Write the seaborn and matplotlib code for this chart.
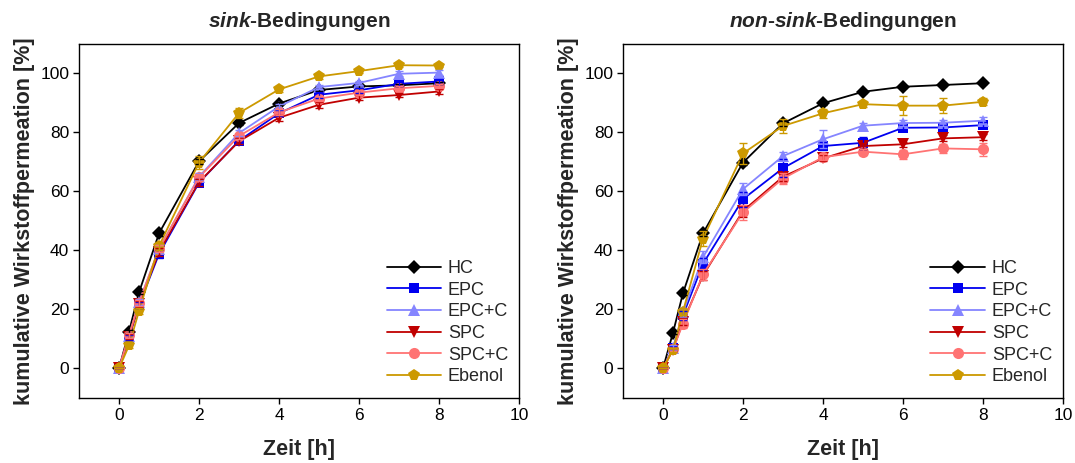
import matplotlib
matplotlib.use("Agg")
import matplotlib.pyplot as plt
from matplotlib.lines import Line2D
import numpy as np
import pandas as pd
import seaborn as sns

# Probenahmezeitpunkte [h]
zeit = [0, 0.25, 0.5, 1, 2, 3, 4, 5, 6, 7, 8]
formulierungen = ["HC", "EPC", "EPC+C", "SPC", "SPC+C", "Ebenol"]

# sink-Bedingungen: Mittelwerte [%]
sink_hc     = [0, 12.5, 25.8, 45.8, 70.2, 83.2, 89.8, 94.4, 95.6, 96.0, 96.7]
sink_epc    = [0, 10.5, 21.5, 38.8, 63.0, 77.2, 86.5, 92.8, 94.3, 96.5, 97.3]
sink_epc_c  = [0, 11.0, 22.5, 40.5, 65.0, 79.8, 88.8, 95.4, 96.8, 99.9, 100.3]
sink_spc    = [0, 10.8, 21.8, 39.5, 63.2, 77.0, 85.0, 89.4, 91.8, 92.7, 93.9]
sink_spc_c  = [0, 11.2, 22.3, 40.6, 64.8, 78.8, 86.8, 91.5, 93.5, 95.0, 95.8]
sink_ebenol = [0, 7.8, 19.5, 41.5, 69.8, 86.6, 94.6, 99.0, 100.8, 102.8, 102.7]

# sink-Bedingungen: Standardabweichungen
sink_hc_sd     = [0, 0.5, 0.6, 0.8, 0.8, 0.6, 0.6, 0.5, 0.5, 0.4, 0.4]
sink_epc_sd    = [0, 0.8, 1.0, 1.2, 1.2, 1.0, 1.0, 1.0, 0.8, 0.9, 0.8]
sink_epc_c_sd  = [0, 0.8, 1.0, 1.2, 1.2, 1.0, 1.0, 0.8, 0.8, 0.8, 0.8]
sink_spc_sd    = [0, 0.8, 1.0, 1.2, 1.2, 1.0, 1.0, 1.0, 0.8, 0.8, 0.8]
sink_spc_c_sd  = [0, 0.8, 1.0, 1.2, 1.2, 1.0, 1.0, 0.8, 0.8, 0.8, 0.8]
sink_ebenol_sd = [0, 0.8, 1.0, 1.5, 2.2, 1.6, 0.8, 0.8, 0.6, 0.6, 0.6]

# non-sink-Bedingungen: Mittelwerte [%]
nonsink_hc     = [0, 12.1, 25.5, 45.8, 69.8, 83.1, 89.9, 93.8, 95.5, 96.1, 96.7]
nonsink_epc    = [0, 6.8, 18.0, 35.5, 57.4, 67.9, 75.4, 76.5, 81.6, 81.7, 82.5]
nonsink_epc_c  = [0, 7.0, 19.0, 37.7, 60.8, 72.0, 77.7, 82.3, 83.2, 83.3, 84.0]
nonsink_spc    = [0, 6.4, 15.8, 31.5, 53.4, 65.0, 71.2, 75.4, 76.0, 78.0, 78.4]
nonsink_spc_c  = [0, 6.5, 15.2, 31.9, 52.9, 64.4, 71.6, 73.5, 72.6, 74.6, 74.3]
nonsink_ebenol = [0, 6.3, 19.3, 44.0, 72.9, 82.2, 86.5, 89.6, 89.1, 89.1, 90.4]

# non-sink-Bedingungen: Standardabweichungen
nonsink_hc_sd     = [0, 0.5, 0.6, 1.0, 0.8, 0.8, 0.5, 0.4, 0.4, 0.3, 0.3]
nonsink_epc_sd    = [0, 0.8, 1.5, 2.0, 2.5, 3.0, 1.5, 2.0, 1.0, 1.0, 1.0]
nonsink_epc_c_sd  = [0, 0.8, 1.5, 2.0, 2.0, 1.5, 3.0, 1.0, 1.0, 1.0, 1.2]
nonsink_spc_sd    = [0, 0.6, 1.2, 1.5, 2.0, 1.5, 1.0, 1.0, 0.8, 1.0, 1.0]
nonsink_spc_c_sd  = [0, 0.6, 1.5, 1.8, 2.5, 2.0, 1.0, 1.0, 1.5, 1.5, 2.2]
nonsink_ebenol_sd = [0, 0.6, 1.2, 2.5, 3.5, 2.5, 1.5, 1.0, 3.2, 2.5, 1.2]

x_ticks = [0, 2, 4, 6, 8, 10]
y_ticks = [0, 20, 40, 60, 80, 100]

farben = {"HC": "#000000", "EPC": "#0000f0", "EPC+C": "#8585ff",
          "SPC": "#c00000", "SPC+C": "#ff7373", "Ebenol": "#cc9900"}
symbole = {"HC": "D", "EPC": "s", "EPC+C": "^",
           "SPC": "v", "SPC+C": "o", "Ebenol": "p"}
groessen = {"HC": 7, "EPC": 7, "EPC+C": 8, "SPC": 8, "SPC+C": 8, "Ebenol": 8.5}

sns.set_theme(style="ticks")
plt.rcParams["font.family"] = ["Liberation Sans", "DejaVu Sans"]
plt.rcParams["mathtext.fontset"] = "custom"
plt.rcParams["mathtext.it"] = "Liberation Sans:italic:bold"
plt.rcParams["mathtext.rm"] = "Liberation Sans:bold"
plt.rcParams["mathtext.bf"] = "Liberation Sans:bold"


def langform(werte, sds):
    teile = []
    for name, w, s in zip(formulierungen, werte, sds):
        teile.append(pd.DataFrame({"Zeit": zeit, "Wert": w, "SD": s,
                                   "Formulierung": name}))
    return pd.concat(teile, ignore_index=True)


def panel(ax, df, titel):
    for name in formulierungen:
        sub = df[df["Formulierung"] == name]
        ax.errorbar(sub["Zeit"], sub["Wert"], yerr=sub["SD"], fmt="none",
                    ecolor=farben[name], elinewidth=1.0, capsize=3,
                    capthick=1.0, zorder=3)
        sns.lineplot(data=sub, x="Zeit", y="Wert", color=farben[name],
                     marker=symbole[name],
                     markersize=groessen[name], markeredgewidth=0,
                     linewidth=1.3, errorbar=None, sort=False,
                     legend=False, ax=ax, zorder=2)
    ax.set_xlim(-1, 10)
    ax.set_ylim(-10, 110)
    ax.set_xticks(x_ticks)
    ax.set_yticks(y_ticks)
    ax.tick_params(direction="out", length=4, width=1, labelsize=12.5,
                   colors="black", pad=3)
    for sp in ax.spines.values():
        sp.set_color("black")
        sp.set_linewidth(1.0)
    ax.set_xlabel("Zeit [h]", fontsize=15.5, fontweight="bold", labelpad=12)
    ax.set_ylabel("kumulative Wirkstoffpermeation [%]", fontsize=15.5,
                  fontweight="bold", labelpad=4)
    ax.set_title(titel, fontsize=15, fontweight="bold", pad=12)
    griffe = [Line2D([], [], color=farben[n], marker=symbole[n],
                     markersize=groessen[n], markeredgewidth=0, linewidth=1.3)
              for n in formulierungen]
    ax.legend(griffe, formulierungen, loc="lower right", frameon=False,
              fontsize=13, handlelength=3.0, handletextpad=0.4,
              labelspacing=0.26, borderaxespad=0.2,
              bbox_to_anchor=(1.0, 0.005))


fig = plt.figure(figsize=(10.75, 4.63), dpi=100)
ax1 = fig.add_axes([0.0735, 0.1404, 0.4093, 0.7646])
ax2 = fig.add_axes([0.5795, 0.1404, 0.4093, 0.7646])

df_sink = langform([sink_hc, sink_epc, sink_epc_c, sink_spc, sink_spc_c, sink_ebenol],
                   [sink_hc_sd, sink_epc_sd, sink_epc_c_sd, sink_spc_sd,
                    sink_spc_c_sd, sink_ebenol_sd])
df_nonsink = langform([nonsink_hc, nonsink_epc, nonsink_epc_c, nonsink_spc,
                       nonsink_spc_c, nonsink_ebenol],
                      [nonsink_hc_sd, nonsink_epc_sd, nonsink_epc_c_sd,
                       nonsink_spc_sd, nonsink_spc_c_sd, nonsink_ebenol_sd])

panel(ax1, df_sink, r"$\mathit{sink}$-Bedingungen")
panel(ax2, df_nonsink, r"$\mathit{non}$-$\mathit{sink}$-Bedingungen")

fig.savefig("out.png", dpi=100)
